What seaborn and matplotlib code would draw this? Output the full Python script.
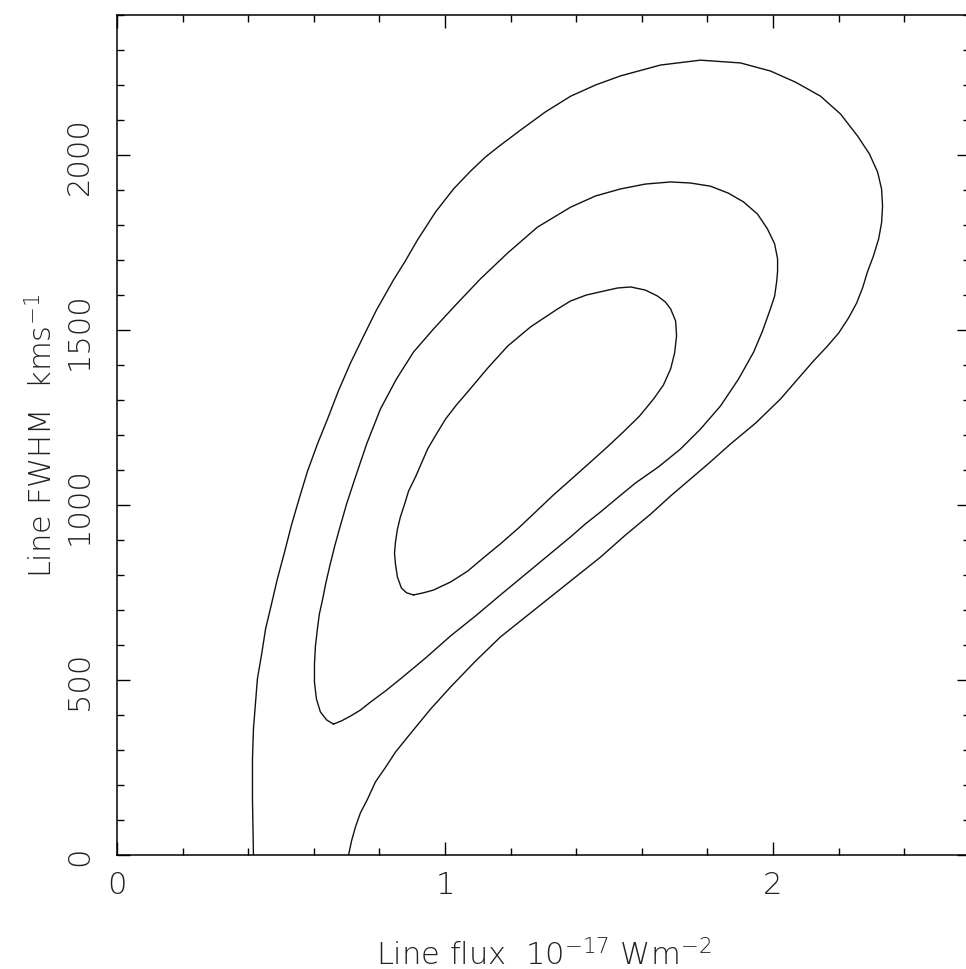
import matplotlib
matplotlib.use("Agg")
import matplotlib.pyplot as plt
from matplotlib.ticker import MultipleLocator
import seaborn as sns
import pandas as pd

# ---- data (flux in 1e-17 W m^-2, FWHM in km/s) ----
outer_flux = [0.416, 0.413, 0.413, 0.416, 0.422, 0.428, 0.441, 0.453, 0.471, 0.489,
              0.511, 0.532, 0.556, 0.581, 0.611, 0.642, 0.675, 0.712, 0.752, 0.791,
              0.843, 0.877, 0.916, 0.971, 1.026, 1.078, 1.123, 1.169, 1.230, 1.306,
              1.383, 1.459, 1.535, 1.657, 1.779, 1.901, 1.992, 2.069, 2.145, 2.206,
              2.258, 2.294, 2.319, 2.331, 2.334, 2.331, 2.322, 2.306, 2.288, 2.273,
              2.255, 2.230, 2.200, 2.163, 2.123, 2.084, 2.023, 1.947, 1.870, 1.809,
              1.748, 1.688, 1.627, 1.550, 1.474, 1.383, 1.276, 1.169, 1.093, 1.017,
              0.956, 0.886, 0.849, 0.819, 0.788, 0.764, 0.742, 0.727, 0.715, 0.706]
outer_fwhm = [0, 160, 274, 360, 431, 503, 574, 646, 717, 789,
              866, 943, 1020, 1097, 1174, 1246, 1326, 1406, 1483, 1557,
              1643, 1694, 1757, 1837, 1903, 1954, 1994, 2028, 2071, 2123,
              2168, 2200, 2226, 2257, 2271, 2263, 2240, 2208, 2168, 2117,
              2054, 2003, 1951, 1903, 1854, 1806, 1760, 1711, 1666, 1620,
              1577, 1534, 1491, 1451, 1411, 1369, 1303, 1234, 1174, 1123,
              1074, 1026, 974, 914, 851, 783, 703, 623, 554, 480,
              417, 337, 294, 251, 209, 160, 120, 80, 40, 0]

middle_flux = [0.660, 0.639, 0.620, 0.608, 0.602, 0.602, 0.605, 0.611, 0.617, 0.627,
               0.636, 0.648, 0.663, 0.678, 0.700, 0.727, 0.761, 0.803, 0.852, 0.904,
               0.965, 1.032, 1.108, 1.191, 1.282, 1.383, 1.459, 1.535, 1.611, 1.688,
               1.748, 1.809, 1.864, 1.910, 1.953, 1.983, 2.005, 2.014, 2.014, 2.011,
               2.005, 1.992, 1.968, 1.941, 1.895, 1.840, 1.779, 1.718, 1.651, 1.581,
               1.529, 1.474, 1.428, 1.383, 1.276, 1.169, 1.093, 1.017, 0.941, 0.864,
               0.819, 0.773, 0.742, 0.712, 0.684, 0.660]
middle_fwhm = [374, 386, 409, 446, 494, 546, 597, 646, 689, 731,
               774, 823, 880, 931, 1003, 1080, 1174, 1274, 1360, 1437,
               1503, 1571, 1646, 1720, 1794, 1851, 1883, 1903, 1917, 1923,
               1920, 1911, 1891, 1866, 1831, 1789, 1746, 1703, 1668, 1637,
               1597, 1560, 1497, 1437, 1360, 1283, 1217, 1160, 1109, 1063,
               1023, 980, 946, 909, 826, 743, 683, 626, 563, 503,
               469, 437, 414, 397, 383, 374]

inner_flux = [0.904, 0.883, 0.867, 0.855, 0.849, 0.846, 0.849, 0.855, 0.864, 0.877,
              0.889, 0.910, 0.947, 0.974, 1.002, 1.035, 1.069, 1.130, 1.191, 1.261,
              1.343, 1.383, 1.431, 1.483, 1.526, 1.566, 1.611, 1.648, 1.672, 1.688,
              1.703, 1.706, 1.700, 1.688, 1.666, 1.636, 1.593, 1.544, 1.495, 1.444,
              1.389, 1.331, 1.276, 1.224, 1.169, 1.117, 1.069, 1.017, 0.965,
              0.934, 0.904]
inner_fwhm = [743, 749, 763, 794, 831, 863, 894, 931, 966, 1003,
              1040, 1080, 1160, 1203, 1246, 1286, 1323, 1391, 1454, 1509,
              1560, 1583, 1600, 1611, 1620, 1623, 1614, 1597, 1580, 1560,
              1526, 1483, 1434, 1389, 1343, 1303, 1254, 1209, 1166, 1123,
              1077, 1029, 980, 934, 889, 849, 811, 780, 757,
              749, 743]

x_ticks = [0, 1, 2]
y_ticks = [0, 500, 1000, 1500, 2000]
x_label = r"Line flux  10$^{-17}$ Wm$^{-2}$"
y_label = r"Line FWHM  kms$^{-1}$"

# ---- style ----
sns.set_style("ticks")
plt.rcParams["font.family"] = ["DejaVu Sans"]
plt.rcParams["mathtext.default"] = "regular"

fig = plt.figure(figsize=(9.66, 9.70), dpi=100)
ax = fig.add_axes([117 / 966, 114 / 970, 852.8 / 966, 840 / 970])

for fx, fw in [(outer_flux, outer_fwhm), (middle_flux, middle_fwhm), (inner_flux, inner_fwhm)]:
    df = pd.DataFrame({"flux": fx, "fwhm": fw})
    sns.lineplot(data=df, x="flux", y="fwhm", sort=False, estimator=None,
                 color="#111111", linewidth=1.0, ax=ax,
                 solid_joinstyle="round", solid_capstyle="round")

ax.set_xlim(0, 2.6)
ax.set_ylim(0, 2400)
ax.set_xticks(x_ticks)
ax.set_yticks(y_ticks)
ax.xaxis.set_minor_locator(MultipleLocator(0.2))
ax.yaxis.set_minor_locator(MultipleLocator(100))

for s in ax.spines.values():
    s.set_visible(True)
    s.set_linewidth(1.1)
    s.set_color("black")

ax.tick_params(which="both", direction="in", top=True, right=True, color="black", width=1.0)
ax.tick_params(which="major", length=9.5)
ax.tick_params(which="minor", length=5)
ax.tick_params(axis="x", which="major", labelsize=22, pad=11, labelcolor="#222222")
ax.tick_params(axis="y", which="major", labelsize=22, pad=27, labelcolor="#222222")
for lab in ax.get_yticklabels():
    lab.set_rotation(90)
    lab.set_va("center")
    lab.set_ha("center")
for lab in ax.get_xticklabels() + ax.get_yticklabels():
    lab.set_fontweight("light")

ax.set_xlabel(x_label, fontsize=22, color="#222222", labelpad=28, fontweight="light")
ax.set_ylabel(y_label, fontsize=22, color="#222222", labelpad=5, fontweight="light")

fig.savefig("out.png", dpi=100, facecolor="white")
